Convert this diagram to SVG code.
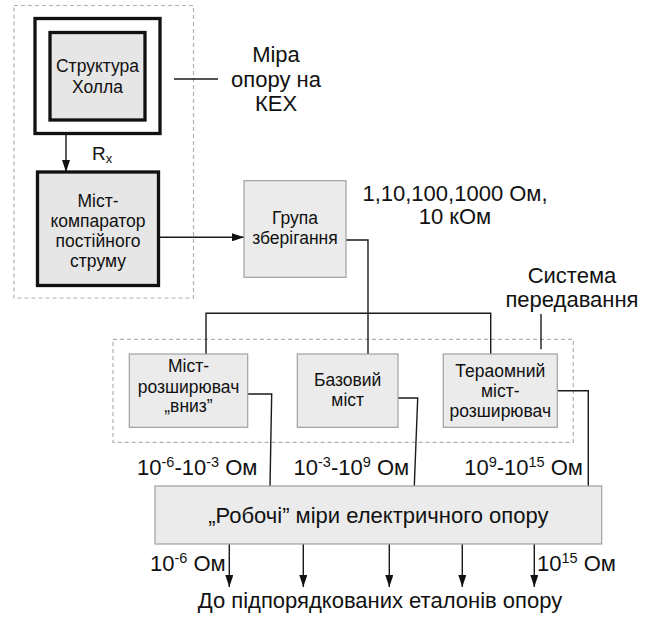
<svg xmlns="http://www.w3.org/2000/svg" width="647" height="617" viewBox="0 0 647 617">
<style>
text{font-family:"Liberation Sans",Arial,sans-serif;fill:#111}
.bx{font-size:17.5px;text-anchor:middle}
.lg{font-size:22px;text-anchor:middle}
.lb{font-size:22px}
.sp{font-size:14.5px}
.thick{fill:#e6e6e6;stroke:#111;stroke-width:3.3}
.thin{fill:#ebebeb;stroke:#a0a0a0;stroke-width:1.2}
.dash{fill:none;stroke:#b0b0b0;stroke-width:1.2;stroke-dasharray:4 3}
.ln{fill:none;stroke:#1a1a1a;stroke-width:1.4}
</style>
<defs>
<marker id="arr" viewBox="0 0 12 8" markerWidth="12" markerHeight="8" refX="12" refY="4" orient="auto" markerUnits="userSpaceOnUse">
<path d="M0,0 L12,4 L0,8 z" fill="#111"/>
</marker>
</defs>
<rect width="647" height="617" fill="#fff"/>

<g id="kex-frame">
<rect class="dash" x="14" y="5.5" width="179.5" height="292.5"/>
</g>
<g id="transfer-frame">
<rect class="dash" x="113" y="339.3" width="460.3" height="103"/>
</g>

<g id="connectors">
<line class="ln" x1="66" y1="135" x2="66" y2="172" marker-end="url(#arr)"/>
<line class="ln" x1="160" y1="237.3" x2="244" y2="237.3" marker-end="url(#arr)"/>
<line class="ln" x1="174" y1="79" x2="218" y2="79"/>
<polyline class="ln" points="346,240 368,240 368,354"/>
<polyline class="ln" points="206,354 206,313.3 490.7,313.3 490.7,354"/>
<line class="ln" x1="541" y1="314" x2="541" y2="349.3"/>
<polyline class="ln" points="247.7,394 271.7,394 270,486"/>
<polyline class="ln" points="398,398 417.7,398 414.3,486"/>
<polyline class="ln" points="557.3,390.7 588.3,390.7 588.3,486"/>
<line class="ln" x1="229.3" y1="544" x2="229.3" y2="587" marker-end="url(#arr)"/>
<line class="ln" x1="303.3" y1="544" x2="303.3" y2="587" marker-end="url(#arr)"/>
<line class="ln" x1="389.3" y1="544" x2="389.3" y2="587" marker-end="url(#arr)"/>
<line class="ln" x1="462.3" y1="544" x2="462.3" y2="587" marker-end="url(#arr)"/>
<line class="ln" x1="534.3" y1="544" x2="534.3" y2="587" marker-end="url(#arr)"/>
</g>

<g id="hall">
<rect x="35" y="18.5" width="125" height="115" fill="#fff" stroke="#111" stroke-width="3.3"/>
<rect class="thick" x="50" y="32.5" width="95" height="87.5"/>
<text class="bx" x="97.5" y="72">Структура</text>
<text class="bx" x="97.5" y="93">Холла</text>
</g>

<g id="kex-label">
<text class="lg" x="276" y="62">Міра</text>
<text class="lg" x="276" y="87">опору на</text>
<text class="lg" x="276" y="111">КЕХ</text>
</g>

<g id="rx-label">
<text x="92" y="160" font-size="19">R<tspan font-size="13" dy="3">x</tspan></text>
</g>

<g id="comparator">
<rect class="thick" x="37.5" y="172" width="121" height="113.5"/>
<text class="bx" x="98" y="207">Міст-</text>
<text class="bx" x="98" y="227">компаратор</text>
<text class="bx" x="98" y="247">постійного</text>
<text class="bx" x="98" y="267">струму</text>
</g>

<g id="storage">
<rect class="thin" x="244" y="180.7" width="102" height="96.6"/>
<text class="bx" x="295" y="224">Група</text>
<text class="bx" x="295" y="244">зберігання</text>
</g>

<g id="values-label">
<text class="lg" x="455" y="201">1,10,100,1000 Ом,</text>
<text class="lg" x="455" y="224">10 кОм</text>
</g>

<g id="system-label">
<text class="lg" x="572" y="283">Система</text>
<text class="lg" x="572" y="307">передавання</text>
</g>

<g id="bridge-down">
<rect class="thin" x="129.3" y="354" width="118.4" height="73.3"/>
<text class="bx" x="188.5" y="372">Міст-</text>
<text class="bx" x="188.5" y="392.5">розширювач</text>
<text class="bx" x="188.5" y="412">„вниз”</text>
</g>

<g id="bridge-base">
<rect class="thin" x="297.3" y="354" width="100.7" height="73.3"/>
<text class="bx" x="347.7" y="386">Базовий</text>
<text class="bx" x="347.7" y="406">міст</text>
</g>

<g id="bridge-tera">
<rect class="thin" x="443.3" y="354" width="114" height="73.3"/>
<text class="bx" x="500.3" y="377">Тераомний</text>
<text class="bx" x="500.3" y="397">міст-</text>
<text class="bx" x="500.3" y="417">розширювач</text>
</g>

<g id="range-labels">
<text class="lb" x="137" y="475">10<tspan class="sp" dy="-8">-6</tspan><tspan dy="8">-10</tspan><tspan class="sp" dy="-8">-3</tspan><tspan dy="8"> Ом</tspan></text>
<text class="lb" x="293.5" y="475">10<tspan class="sp" dy="-8">-3</tspan><tspan dy="8">-10</tspan><tspan class="sp" dy="-8">9</tspan><tspan dy="8"> Ом</tspan></text>
<text class="lb" x="583" y="475" text-anchor="end">10<tspan class="sp" dy="-8">9</tspan><tspan dy="8">-10</tspan><tspan class="sp" dy="-8">15</tspan><tspan dy="8"> Ом</tspan></text>
</g>

<g id="working-measures">
<rect class="thin" x="155" y="486" width="446.7" height="58"/>
<text class="lg" x="378.3" y="523">„Робочі” міри електричного опору</text>
</g>

<g id="bottom-labels">
<text class="lb" x="150" y="571">10<tspan class="sp" dy="-8">-6</tspan><tspan dy="8"> Ом</tspan></text>
<text class="lb" x="537" y="571">10<tspan class="sp" dy="-8">15</tspan><tspan dy="8"> Ом</tspan></text>
<text class="lg" x="380" y="608">До підпорядкованих еталонів опору</text>
</g>
</svg>
